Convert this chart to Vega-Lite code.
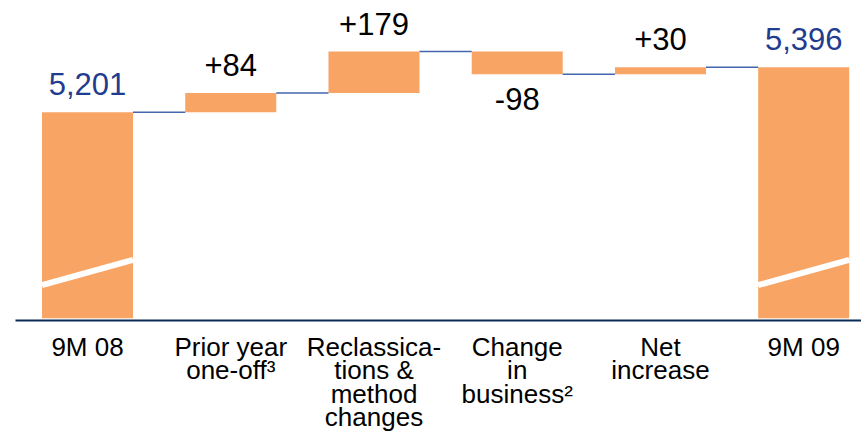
{
  "$schema": "https://vega.github.io/schema/vega-lite/v6.json",
  "width": 846,
  "height": 320,
  "autosize": {"type": "none"},
  "padding": {"left": 15, "top": 0, "right": 0, "bottom": 125},
  "background": "white",
  "config": {"view": {"stroke": null}, "font": "Liberation Sans"},
  "data": {
    "values": [
      {"order": 1, "cat": "9M 08", "kind": "total", "start": null, "end": 5201, "delta": null},
      {"order": 2, "cat": "Prior year|one-off³", "kind": "delta", "start": 5201, "end": 5285, "delta": 84},
      {"order": 3, "cat": "Reclassica-|tions &|method|changes", "kind": "delta", "start": 5285, "end": 5464, "delta": 179},
      {"order": 4, "cat": "Change|in|business²", "kind": "delta", "start": 5464, "end": 5366, "delta": -98},
      {"order": 5, "cat": "Net|increase", "kind": "delta", "start": 5366, "end": 5396, "delta": 30},
      {"order": 6, "cat": "9M 09", "kind": "total", "start": null, "end": 5396, "delta": null}
    ]
  },
  "transform": [
    {"window": [{"op": "lead", "field": "cat", "as": "next"}], "sort": [{"field": "order"}]},
    {"calculate": "datum.kind === 'total' ? format(datum.end, ',') : ((datum.delta > 0 ? '+' : '') + datum.delta)", "as": "lbl"}
  ],
  "encoding": {
    "x": {
      "field": "cat",
      "type": "nominal",
      "scale": {
        "domain": ["9M 08", "Prior year|one-off³", "Reclassica-|tions &|method|changes", "Change|in|business²", "Net|increase", "9M 09"],
        "paddingInner": 0.3647,
        "paddingOuter": 0.1355,
        "align": 0.696
      },
      "axis": {
        "title": null,
        "labelAngle": 0,
        "labelFontSize": 26,
        "labelFont": "Liberation Sans",
        "labelColor": "black",
        "labelLineHeight": 23.5,
        "labelPadding": 14,
        "labelLimit": 0,
        "ticks": false,
        "tickSize": 0,
        "domainColor": "#0b2a55",
        "domainWidth": 2,
        "grid": false,
        "labelExpr": "split(datum.label, '|')"
      }
    }
  },
  "layer": [
    {
      "transform": [{"filter": "datum.kind === 'total'"}],
      "mark": {"type": "bar", "color": "#F7A465"},
      "encoding": {
        "y": {"field": "end", "type": "quantitative", "scale": {"domain": [4302, 5687], "zero": false, "nice": false}, "axis": null},
        "y2": {"datum": 4310}
      }
    },
    {
      "transform": [{"filter": "datum.kind === 'delta'"}],
      "mark": {"type": "bar", "color": "#F7A465"},
      "encoding": {
        "y": {"field": "start", "type": "quantitative", "scale": {"domain": [4302, 5687], "zero": false, "nice": false}, "axis": null},
        "y2": {"field": "end"}
      }
    },
    {
      "transform": [{"filter": "datum.kind === 'total'"}],
      "mark": {"type": "rule", "color": "white", "strokeWidth": 6},
      "encoding": {
        "x": {"field": "cat", "type": "nominal", "bandPosition": 0},
        "x2": {"field": "cat", "bandPosition": 1},
        "y": {"datum": 4453, "type": "quantitative", "scale": {"domain": [4302, 5687], "zero": false, "nice": false}, "axis": null},
        "y2": {"datum": 4562}
      }
    },
    {
      "transform": [{"filter": "datum.next != null"}],
      "mark": {"type": "rule", "color": "#4565AE", "strokeWidth": 1.5},
      "encoding": {
        "x": {"field": "cat", "type": "nominal", "bandPosition": 1},
        "x2": {"field": "next", "bandPosition": 0},
        "y": {"field": "end", "type": "quantitative", "scale": {"domain": [4302, 5687], "zero": false, "nice": false}, "axis": null}
      }
    },
    {
      "transform": [{"filter": "datum.kind === 'total' || datum.delta > 0"}],
      "mark": {"type": "text", "fontSize": 31, "baseline": "alphabetic", "dy": -17, "font": "Liberation Sans"},
      "encoding": {
        "y": {"field": "end", "type": "quantitative", "scale": {"domain": [4302, 5687], "zero": false, "nice": false}, "axis": null},
        "text": {"field": "lbl"},
        "color": {"condition": {"test": "datum.kind === 'total'", "value": "#1F3C8F"}, "value": "black"}
      }
    },
    {
      "transform": [{"filter": "datum.kind === 'delta' && datum.delta < 0"}],
      "mark": {"type": "text", "fontSize": 31, "baseline": "alphabetic", "dy": 36, "font": "Liberation Sans", "color": "black"},
      "encoding": {
        "y": {"field": "end", "type": "quantitative", "scale": {"domain": [4302, 5687], "zero": false, "nice": false}, "axis": null},
        "text": {"field": "lbl"}
      }
    }
  ]
}
